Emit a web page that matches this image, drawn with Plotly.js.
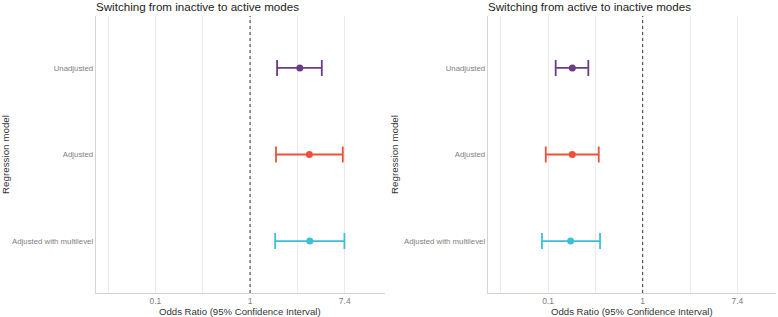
<!DOCTYPE html>
<html>
<head>
<meta charset="utf-8">
<script src="https://cdn.plot.ly/plotly-3.0.1.min.js"></script>
<style>html,body{margin:0;padding:0;background:#fff}#chart{width:778px;height:317px}</style>
</head>
<body>
<div id="chart"></div>
<script>
// Data (odds ratios)
const models = ["Unadjusted", "Adjusted", "Adjusted with multilevel"];
const colors = ["#6c3b84", "#f0503a", "#3cbfd9"];

const inactToActOR = [2.86, 3.50, 3.53];
const inactToActLow = [1.77, 1.73, 1.70];
const inactToActHigh = [4.55, 7.09, 7.34];

const actToInactOR = [0.226, 0.226, 0.218];
const actToInactLow = [0.159, 0.129, 0.119];
const actToInactHigh = [0.317, 0.395, 0.406];

// axis is drawn on the natural-log scale of the odds ratio
const tickValsLn = [-3, -2, -1, 0, 1, 2, 3];
const tickText = ["", "0.1", "", "1", "", "7.4", ""];
const panelTitles = ["Switching from inactive to active modes", "Switching from active to inactive modes"];

const traces = [];
function addPanel(orv, lo, hi, xa, ya) {
  models.forEach((m, i) => {
    const c = Math.log(orv[i]), l = Math.log(lo[i]), h = Math.log(hi[i]);
    traces.push({
      type: "scatter", mode: "markers",
      x: [c], y: [m], xaxis: xa, yaxis: ya,
      marker: {color: colors[i], size: 7},
      error_x: {type: "data", symmetric: false,
        array: [h - c], arrayminus: [c - l],
        color: colors[i], thickness: 1.8, width: 8},
      showlegend: false, hoverinfo: "y"
    });
  });
}
addPanel(inactToActOR, inactToActLow, inactToActHigh, "x", "y");
addPanel(actToInactOR, actToInactLow, actToInactHigh, "x2", "y2");

function xAxis(domain, rangeLn) {
  return {
    type: "linear", domain: domain, range: rangeLn,
    tickmode: "array", tickvals: tickValsLn, ticktext: tickText,
    showgrid: true, gridcolor: "#ebebeb", gridwidth: 1,
    zeroline: false, showline: true, linecolor: "#d4d4d4", linewidth: 1,
    ticks: "", tickfont: {size: 8.5, color: "#808080", family: "Liberation Sans"}
  };
}
function yAxis(anchor) {
  return {
    type: "category", anchor: anchor, domain: [0, 1],
    categoryorder: "array", categoryarray: models,
    range: [2.6, -0.6],
    showgrid: false, zeroline: false, showline: true, linecolor: "#d4d4d4", linewidth: 1,
    ticks: "", ticklabelstandoff: 0,
    tickfont: {size: 7.8, color: "#808080", family: "Liberation Sans"}
  };
}

const d1 = [95.7 / 778, 385 / 778];
const d2 = [487.7 / 778, 775.7 / 778];

const annotations = [];
[d1, d2].forEach((d, k) => {
  annotations.push({text: panelTitles[k], xref: "paper", yref: "paper", x: d[0], xanchor: "left",
    xshift: -2, y: 1, yshift: 10, yanchor: "middle", showarrow: false,
    font: {size: 11.6, color: "#222222", family: "Liberation Sans"}});
  annotations.push({text: "Odds Ratio (95% Confidence Interval)", xref: "paper", yref: "paper",
    x: (d[0] + d[1]) / 2, xanchor: "center", y: 0, yshift: -18, yanchor: "middle", showarrow: false,
    font: {size: 9.6, color: "#333333", family: "Liberation Sans"}});
  annotations.push({text: "Regression model", xref: "paper", yref: "paper",
    x: k === 0 ? 0 : 389 / 778, xanchor: "left", xshift: -2, y: 0.5, yanchor: "middle",
    textangle: -90, showarrow: false,
    font: {size: 9.8, color: "#333333", family: "Liberation Sans"}});
});

const layout = {
  width: 778, height: 317,
  margin: {l: 0, r: 0, t: 16, b: 24},
  paper_bgcolor: "#ffffff", plot_bgcolor: "#ffffff",
  font: {family: "Liberation Sans"},
  xaxis: xAxis(d1, [-3.26, 2.85]),
  yaxis: yAxis("x"),
  xaxis2: xAxis(d2, [-3.275, 2.81]),
  yaxis2: yAxis("x2"),
  shapes: [
    {type: "line", xref: "x", yref: "paper", x0: 0, x1: 0, y0: 0, y1: 1,
      line: {color: "#333333", width: 1, dash: "3px,3px"}, layer: "above"},
    {type: "line", xref: "x2", yref: "paper", x0: 0, x1: 0, y0: 0, y1: 1,
      line: {color: "#333333", width: 1, dash: "3px,3px"}, layer: "above"}
  ],
  annotations: annotations
};
Plotly.newPlot("chart", traces, layout, {displayModeBar: false, staticPlot: true});
</script>
</body>
</html>
